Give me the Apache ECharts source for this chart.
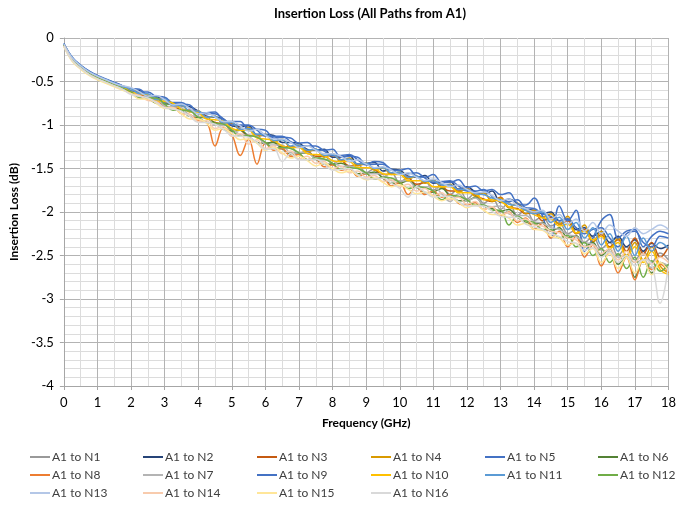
<!DOCTYPE html>
<html>
<head>
<meta charset="utf-8">
<title>Insertion Loss</title>
<script src="https://cdn.jsdelivr.net/npm/echarts@6/dist/echarts.min.js"></script>
<style>
  html, body { margin: 0; padding: 0; background: #fff; }
  #main { width: 679px; height: 510px; }
</style>
</head>
<body>
<div id="main"></div>
<script>
// frequency points (GHz)
var freqs = [0, 0.25, 0.5, 0.75, 1, 1.25, 1.5, 1.75, 2, 2.25, 2.5, 2.75, 3, 3.25, 3.5, 3.75,
  4, 4.25, 4.5, 4.75, 5, 5.25, 5.5, 5.75, 6, 6.25, 6.5, 6.75, 7, 7.25, 7.5, 7.75,
  8, 8.25, 8.5, 8.75, 9, 9.25, 9.5, 9.75, 10, 10.25, 10.5, 10.75, 11, 11.25, 11.5, 11.75,
  12, 12.25, 12.5, 12.75, 13, 13.25, 13.5, 13.75, 14, 14.25, 14.5, 14.75, 15, 15.25, 15.5, 15.75,
  16, 16.25, 16.5, 16.75, 17, 17.25, 17.5, 17.75, 18];

// insertion loss (dB), one array per path
var n1 = [-0.08,-0.24,-0.33,-0.40,-0.45,-0.49,-0.53,-0.57, -0.61,-0.63,-0.68,-0.70,-0.75,-0.76,-0.83,-0.83,
  -0.92,-0.91,-0.99,-0.98,-1.07,-1.05,-1.13,-1.12, -1.22,-1.19,-1.28,-1.25,-1.33,-1.29,-1.39,-1.35,
  -1.45,-1.40,-1.49,-1.45,-1.55,-1.50,-1.60,-1.55, -1.66,-1.60,-1.71,-1.64,-1.75,-1.69,-1.80,-1.73,
  -1.85,-1.78,-1.90,-1.83,-1.97,-1.89,-2.04,-1.97, -2.10,-2.05,-2.16,-2.12,-2.25,-2.20,-2.35,-2.28,
  -2.42,-2.35,-2.50,-2.40,-2.55,-2.45,-2.58,-2.47, -2.55];
var n2 = [-0.07,-0.23,-0.32,-0.39,-0.44,-0.48,-0.52,-0.55, -0.59,-0.60,-0.68,-0.68,-0.70,-0.77,-0.78,-0.79,
  -0.84,-0.90,-0.91,-0.93,-1.01,-1.02,-1.01,-1.11, -1.11,-1.12,-1.20,-1.20,-1.21,-1.28,-1.29,-1.28,
  -1.37,-1.37,-1.35,-1.45,-1.44,-1.43,-1.53,-1.51, -1.52,-1.59,-1.60,-1.58,-1.67,-1.66,-1.65,-1.74,
  -1.71,-1.77,-1.80,-1.76,-1.89,-1.85,-1.90,-1.97, -1.98,-2.02,-2.00,-2.10,-2.08,-2.20,-2.18,-2.28,
  -2.22,-2.35,-2.28,-2.40,-2.32,-2.45,-2.36,-2.42, -2.38];
var n3 = [-0.08,-0.24,-0.33,-0.39,-0.45,-0.49,-0.52,-0.56, -0.58,-0.63,-0.69,-0.70,-0.71,-0.76,-0.83,-0.83,
  -0.84,-0.91,-0.97,-0.98,-0.98,-1.05,-1.12,-1.12, -1.12,-1.19,-1.25,-1.25,-1.24,-1.30,-1.36,-1.36,
  -1.35,-1.40,-1.47,-1.46,-1.45,-1.51,-1.57,-1.56, -1.55,-1.60,-1.68,-1.66,-1.64,-1.71,-1.76,-1.76,
  -1.73,-1.81,-1.85,-1.88,-1.83,-1.95,-1.96,-2.02, -2.00,-2.10,-2.06,-2.14,-2.10,-2.25,-2.20,-2.34,
  -2.26,-2.40,-2.32,-2.45,-2.30,-2.48,-2.35,-2.52, -2.40];
var n4 = [-0.07,-0.24,-0.32,-0.39,-0.44,-0.48,-0.52,-0.56, -0.58,-0.65,-0.65,-0.71,-0.71,-0.78,-0.77,-0.85,
  -0.84,-0.92,-0.90,-0.99,-0.97,-1.06,-1.03,-1.13, -1.11,-1.20,-1.16,-1.26,-1.23,-1.31,-1.28,-1.37,
  -1.33,-1.42,-1.38,-1.47,-1.44,-1.52,-1.49,-1.57, -1.54,-1.62,-1.59,-1.67,-1.63,-1.72,-1.68,-1.77,
  -1.73,-1.82,-1.78,-1.88,-1.84,-1.95,-1.90,-2.02, -1.98,-2.06,-2.02,-2.14,-2.05,-2.24,-2.15,-2.35,
  -2.22,-2.42,-2.30,-2.50,-2.35,-2.55,-2.40,-2.62, -2.70];
var n5 = [-0.06,-0.22,-0.31,-0.38,-0.43,-0.47,-0.51,-0.55, -0.58,-0.59,-0.66,-0.67,-0.68,-0.75,-0.76,-0.77,
  -0.86,-0.86,-0.85,-0.95,-0.96,-0.96,-1.05,-1.05, -1.06,-1.15,-1.14,-1.15,-1.21,-1.20,-1.28,-1.29,
  -1.28,-1.37,-1.36,-1.37,-1.45,-1.42,-1.43,-1.52, -1.52,-1.50,-1.59,-1.60,-1.57,-1.66,-1.66,-1.63,
  -1.72,-1.70,-1.76,-1.74,-1.80,-1.78,-1.90,-1.92, -1.84,-2.05,-2.30,-1.93,-2.10,-1.98,-2.45,-2.30,
  -2.10,-2.03,-2.30,-2.22,-2.20,-2.40,-2.28,-2.22, -2.25];
var n6 = [-0.08,-0.25,-0.34,-0.41,-0.46,-0.50,-0.54,-0.58, -0.62,-0.62,-0.69,-0.75,-0.76,-0.76,-0.83,-0.90,
  -0.91,-0.92,-0.98,-1.05,-1.07,-1.06,-1.13,-1.20, -1.21,-1.20,-1.27,-1.34,-1.33,-1.32,-1.39,-1.45,
  -1.45,-1.44,-1.49,-1.56,-1.56,-1.54,-1.61,-1.67, -1.67,-1.64,-1.71,-1.78,-1.77,-1.73,-1.82,-1.87,
  -1.87,-1.83,-1.93,-1.96,-1.99,-1.97,-2.06,-2.12, -2.14,-2.12,-2.22,-2.18,-2.30,-2.27,-2.40,-2.35,
  -2.50,-2.42,-2.60,-2.50,-2.75,-2.55,-2.70,-2.58, -2.65];
var n8 = [-0.09,-0.25,-0.34,-0.41,-0.46,-0.50,-0.54,-0.58, -0.63,-0.65,-0.71,-0.72,-0.79,-0.79,-0.87,-0.88,
  -0.95,-0.97,-1.24,-1.03,-1.11,-1.35,-1.16,-1.45, -1.21,-1.29,-1.27,-1.36,-1.34,-1.40,-1.39,-1.48,
  -1.46,-1.52,-1.50,-1.59,-1.56,-1.62,-1.61,-1.70, -1.66,-1.80,-1.71,-1.80,-1.76,-1.83,-1.80,-1.90,
  -1.92,-1.89,-1.97,-1.94,-2.04,-2.00,-2.12,-2.07, -2.20,-2.13,-2.30,-2.22,-2.40,-2.28,-2.52,-2.38,
  -2.62,-2.45,-2.70,-2.52,-2.78,-2.55,-2.66,-2.60, -2.70];
var n7 = [-0.08,-0.24,-0.33,-0.40,-0.46,-0.50,-0.54,-0.57, -0.59,-0.68,-0.68,-0.69,-0.78,-0.79,-0.80,-0.89,
  -0.90,-0.91,-1.00,-1.00,-1.04,-1.11,-1.12,-1.13, -1.22,-1.23,-1.23,-1.32,-1.32,-1.32,-1.39,-1.40,
  -1.41,-1.48,-1.47,-1.49,-1.56,-1.56,-1.56,-1.64, -1.64,-1.64,-1.72,-1.71,-1.71,-1.79,-1.88,-1.79,
  -1.87,-1.84,-1.92,-1.94,-1.93,-2.02,-2.04,-2.04, -2.11,-2.13,-2.18,-2.20,-2.26,-2.28,-2.35,-2.37,
  -2.44,-2.45,-2.52,-2.50,-2.58,-2.55,-2.64,-2.58, -2.62];
var n9 = [-0.07,-0.23,-0.32,-0.38,-0.44,-0.48,-0.51,-0.55, -0.61,-0.62,-0.62,-0.68,-0.74,-0.74,-0.74,-0.81,
  -0.87,-0.87,-0.87,-0.93,-1.00,-1.00,-1.00,-1.06, -1.13,-1.13,-1.13,-1.19,-1.24,-1.24,-1.24,-1.30,
  -1.35,-1.35,-1.34,-1.40,-1.46,-1.45,-1.45,-1.51, -1.56,-1.56,-1.55,-1.61,-1.66,-1.65,-1.64,-1.70,
  -1.76,-1.76,-1.74,-1.82,-1.88,-1.88,-1.86,-1.95, -1.96,-2.02,-2.05,-2.10,-2.08,-2.18,-2.25,-2.20,
  -2.18,-2.30,-2.40,-2.25,-2.22,-2.35,-2.40,-2.28, -2.30];
var n10 = [-0.08,-0.24,-0.33,-0.40,-0.45,-0.49,-0.53,-0.56, -0.62,-0.64,-0.65,-0.72,-0.73,-0.75,-0.82,-0.84,
  -0.86,-0.93,-0.94,-0.96,-1.04,-1.06,-1.06,-1.15, -1.16,-1.18,-1.24,-1.26,-1.26,-1.33,-1.34,-1.35,
  -1.41,-1.42,-1.42,-1.49,-1.49,-1.50,-1.56,-1.57, -1.57,-1.64,-1.64,-1.64,-1.71,-1.71,-1.71,-1.78,
  -1.78,-1.79,-1.86,-1.86,-1.88,-1.94,-1.97,-1.98, -2.03,-2.07,-2.08,-2.16,-2.14,-2.24,-2.22,-2.32,
  -2.28,-2.42,-2.35,-2.52,-2.40,-2.58,-2.45,-2.66, -2.72];
var n11 = [-0.07,-0.23,-0.32,-0.39,-0.44,-0.48,-0.52,-0.56, -0.58,-0.64,-0.64,-0.71,-0.70,-0.78,-0.77,-0.84,
  -0.84,-0.91,-0.90,-0.98,-0.97,-1.05,-1.04,-1.11, -1.11,-1.18,-1.17,-1.24,-1.23,-1.29,-1.28,-1.35,
  -1.34,-1.40,-1.39,-1.45,-1.44,-1.50,-1.49,-1.55, -1.54,-1.60,-1.59,-1.65,-1.64,-1.69,-1.69,-1.74,
  -1.74,-1.79,-1.80,-1.84,-1.86,-1.91,-1.93,-1.98, -2.02,-2.00,-2.12,-2.06,-2.20,-2.12,-2.30,-2.18,
  -2.38,-2.25,-2.45,-2.28,-2.50,-2.30,-2.45,-2.35, -2.42];
var n12 = [-0.08,-0.25,-0.34,-0.41,-0.46,-0.50,-0.54,-0.58, -0.62,-0.69,-0.69,-0.69,-0.76,-0.83,-0.83,-0.84,
  -0.91,-0.97,-0.98,-0.99,-1.06,-1.13,-1.12,-1.14, -1.20,-1.27,-1.26,-1.27,-1.32,-1.40,-1.38,-1.39,
  -1.44,-1.51,-1.49,-1.50,-1.55,-1.62,-1.60,-1.61, -1.66,-1.73,-1.71,-1.72,-1.76,-1.86,-1.81,-1.82,
  -1.86,-1.92,-1.92,-1.98,-1.98,-2.15,-2.05,-2.10, -2.12,-2.20,-2.20,-2.30,-2.27,-2.40,-2.35,-2.50,
  -2.42,-2.58,-2.48,-2.65,-2.52,-2.75,-2.56,-2.68, -2.60];
var n13 = [-0.07,-0.23,-0.32,-0.39,-0.44,-0.48,-0.52,-0.55, -0.57,-0.62,-0.67,-0.66,-0.71,-0.77,-0.76,-0.81,
  -0.87,-0.86,-0.91,-0.96,-0.96,-1.01,-1.07,-1.05, -1.12,-1.16,-1.16,-1.20,-1.26,-1.24,-1.29,-1.33,
  -1.33,-1.36,-1.42,-1.40,-1.45,-1.49,-1.48,-1.52, -1.57,-1.55,-1.60,-1.64,-1.62,-1.66,-1.71,-1.69,
  -1.74,-1.78,-1.77,-1.81,-1.87,-1.85,-1.93,-1.96, -2.00,-1.98,-2.08,-2.03,-2.14,-2.08,-2.22,-2.12,
  -2.25,-2.15,-2.22,-2.28,-2.18,-2.25,-2.20,-2.15, -2.20];
var n14 = [-0.09,-0.26,-0.35,-0.42,-0.47,-0.51,-0.55,-0.59, -0.64,-0.66,-0.72,-0.73,-0.80,-0.80,-0.87,-0.88,
  -0.96,-0.95,-1.04,-1.02,-1.13,-1.10,-1.22,-1.17, -1.27,-1.24,-1.33,-1.30,-1.39,-1.36,-1.44,-1.42,
  -1.50,-1.47,-1.55,-1.53,-1.60,-1.58,-1.65,-1.63, -1.71,-1.68,-1.76,-1.73,-1.81,-1.78,-1.86,-1.83,
  -1.91,-1.88,-1.97,-1.94,-2.03,-2.01,-2.10,-2.08, -2.15,-2.16,-2.22,-2.24,-2.30,-2.32,-2.40,-2.38,
  -2.48,-2.42,-2.55,-2.45,-2.58,-2.48,-2.60,-2.52, -2.58];
var n15 = [-0.10,-0.27,-0.36,-0.43,-0.48,-0.52,-0.56,-0.60, -0.64,-0.70,-0.70,-0.75,-0.81,-0.81,-0.87,-0.93,
  -0.93,-0.98,-1.06,-1.04,-1.10,-1.17,-1.16,-1.21, -1.29,-1.26,-1.32,-1.38,-1.36,-1.41,-1.47,-1.44,
  -1.50,-1.55,-1.53,-1.58,-1.63,-1.61,-1.66,-1.71, -1.69,-1.74,-1.79,-1.77,-1.82,-1.87,-1.84,-1.89,
  -1.95,-1.92,-1.98,-2.03,-2.03,-2.07,-2.15,-2.13, -2.20,-2.21,-2.28,-2.30,-2.38,-2.36,-2.48,-2.42,
  -2.58,-2.48,-2.65,-2.52,-2.70,-2.55,-2.72,-2.58, -2.68];
var n16 = [-0.09,-0.26,-0.35,-0.42,-0.47,-0.51,-0.55,-0.59, -0.65,-0.67,-0.69,-0.74,-0.80,-0.82,-0.84,-0.90,
  -0.97,-0.97,-0.99,-1.05,-1.12,-1.13,-1.14,-1.20, -1.28,-1.27,-1.42,-1.33,-1.40,-1.40,-1.39,-1.45,
  -1.52,-1.51,-1.50,-1.57,-1.62,-1.62,-1.61,-1.67, -1.73,-1.83,-1.71,-1.77,-1.83,-1.82,-1.82,-1.88,
  -1.93,-1.93,-1.93,-1.99,-2.05,-2.06,-2.06,-2.14, -2.17,-2.20,-2.25,-2.28,-2.34,-2.36,-2.44,-2.41,
  -2.52,-2.46,-2.58,-2.50,-2.62,-2.55,-2.60,-3.05, -2.62];

var seriesNames = ['A1 to N1', 'A1 to N2', 'A1 to N3', 'A1 to N4', 'A1 to N5', 'A1 to N6',
  'A1 to N8', 'A1 to N7', 'A1 to N9', 'A1 to N10', 'A1 to N11', 'A1 to N12',
  'A1 to N13', 'A1 to N14', 'A1 to N15', 'A1 to N16'];
var seriesValues = [n1, n2, n3, n4, n5, n6, n8, n7, n9, n10, n11, n12, n13, n14, n15, n16];

var colors = ['#999999', '#264478', '#C55A11', '#D99A00', '#4472C4', '#548235',
  '#ED7D31', '#B4B4B4', '#4472C4', '#FFC000', '#5B9BD5', '#70AD47',
  '#B4C7E7', '#F8CBAD', '#FFE699', '#D9D9D9'];

var font = 'Lato, "Open Sans", sans-serif';
var chart = echarts.init(document.getElementById('main'), null, { renderer: 'canvas' });

var series = seriesValues.map(function (vals, i) {
  return {
    name: seriesNames[i],
    type: 'line',
    data: vals.map(function (v, j) { return [freqs[j], v]; }),
    symbol: 'none',
    smooth: 0.4,
    lineStyle: { width: 1.5, color: colors[i] },
    itemStyle: { color: colors[i] }
  };
});

// legend laid out as 6 columns x 3 rows
var colLeft = [30, 143, 257, 371, 485, 598];
var legends = colLeft.map(function (x, c) {
  var names = [];
  for (var r = 0; r < 3; r++) {
    var k = r * 6 + c;
    if (k < seriesNames.length) names.push(seriesNames[k]);
  }
  return {
    orient: 'vertical',
    left: x,
    top: 450,
    icon: 'rect',
    itemWidth: 20,
    itemHeight: 2,
    itemGap: 4,
    padding: 0,
    data: names,
    textStyle: { fontFamily: font, fontSize: 12, color: '#404040', lineHeight: 14, padding: [0, 0, 0, -3] }
  };
});

var option = {
  animation: false,
  color: colors,
  title: {
    text: 'Insertion Loss (All Paths from A1)',
    left: 365,
    textAlign: 'center',
    top: 2,
    textStyle: { fontFamily: font, fontSize: 13, fontWeight: 'bold', color: '#000' }
  },
  legend: legends,
  grid: { left: 61, right: 10, top: 38, bottom: 124 },
  xAxis: {
    type: 'value',
    min: 0, max: 18, interval: 1,
    name: 'Frequency (GHz)',
    nameLocation: 'middle',
    nameGap: 31,
    nameTextStyle: { fontFamily: font, fontSize: 12, fontWeight: 'bold', color: '#000' },
    axisLine: { show: true, onZero: false, lineStyle: { color: '#a6a6a6' } },
    axisTick: { show: true, length: 4, lineStyle: { color: '#a6a6a6' } },
    axisLabel: { margin: 10, fontFamily: font, fontSize: 13, color: '#000' },
    splitLine: { show: true, lineStyle: { color: '#b3b3b3', width: 1 } },
    minorTick: { show: false, splitNumber: 2 },
    minorSplitLine: { show: true, lineStyle: { color: '#dcdcdc', width: 1 } }
  },
  yAxis: {
    type: 'value',
    min: -4, max: 0, interval: 0.5,
    name: 'Insertion Loss (dB)',
    nameLocation: 'middle',
    nameGap: 40,
    nameTextStyle: { fontFamily: font, fontSize: 12, fontWeight: 'bold', color: '#000' },
    axisLine: { show: true, lineStyle: { color: '#a6a6a6' } },
    axisTick: { show: true, length: 4, lineStyle: { color: '#a6a6a6' } },
    axisLabel: { margin: 10, fontFamily: font, fontSize: 13, color: '#000' },
    splitLine: { show: true, lineStyle: { color: '#b3b3b3', width: 1 } },
    minorTick: { show: false, splitNumber: 5 },
    minorSplitLine: { show: true, lineStyle: { color: '#dcdcdc', width: 1 } }
  },
  series: series
};

chart.setOption(option);
</script>
</body>
</html>
